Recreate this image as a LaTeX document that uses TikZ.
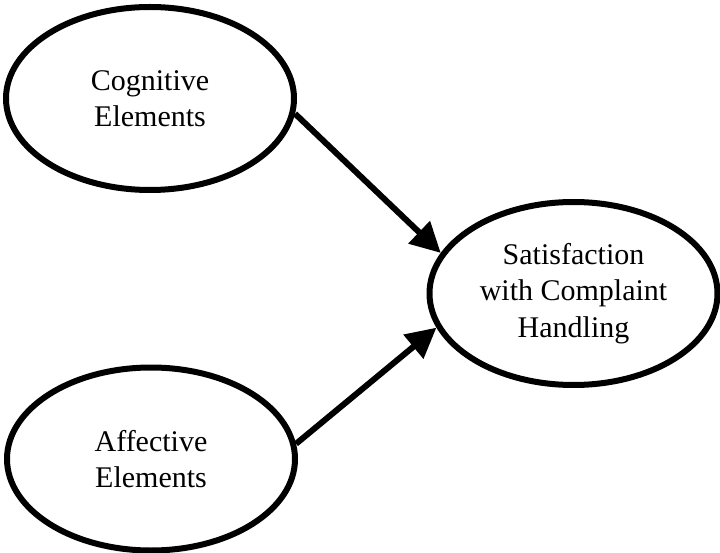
\documentclass[tikz,border=0pt]{standalone}
\usepackage{fontspec}
\setmainfont{Liberation Serif}
\usepackage{tikz}
\usetikzlibrary{shapes.geometric,arrows.meta,positioning}

\begin{document}
\begin{tikzpicture}[x=1pt,y=-1pt,
  latent/.style={ellipse,draw=black,line width=6pt,inner sep=0pt,
                 minimum width=288pt,minimum height=183pt,align=center,
                 font=\fontsize{30}{36.5}\selectfont},
  arr/.style={-{Triangle[length=30pt,width=30pt]},line width=6pt}
]
  \useasboundingbox (0,0) rectangle (720,553);
  \node[latent](cog) at (150,98.5)  {Cognitive\\Elements};
  \node[latent](aff) at (151,459)   {Affective\\Elements};
  \node[latent](sat) at (573.5,293.5){Satisfaction\\with Complaint\\Handling};
  \draw[arr](cog.-6)--(sat.163);
  \draw[arr](aff.6)--(sat.-166);
\end{tikzpicture}
\end{document}
